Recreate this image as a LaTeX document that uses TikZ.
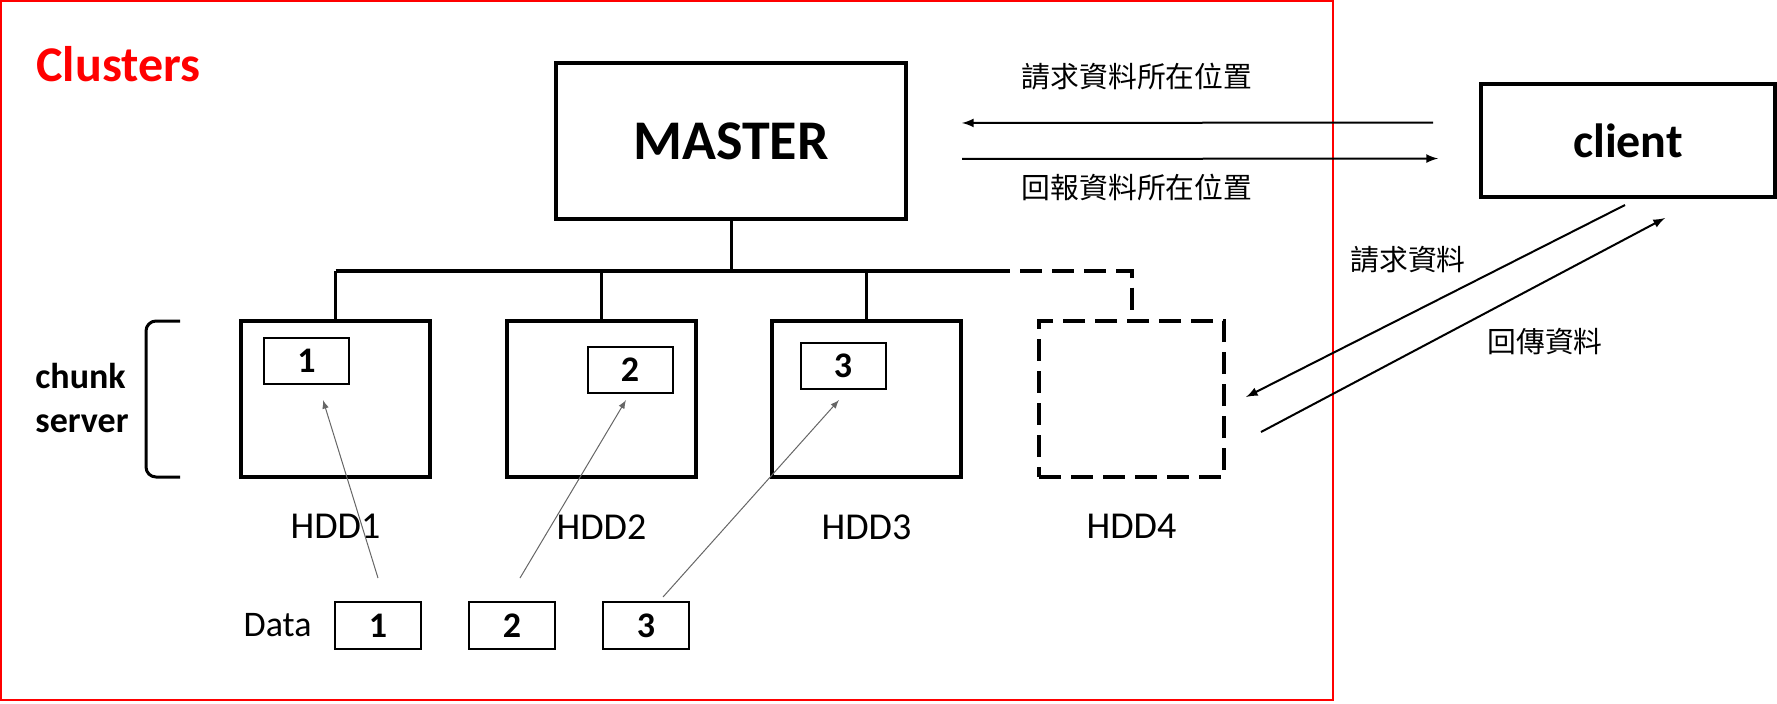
\documentclass[tikz,border=0pt]{standalone}
\usepackage{fontspec}
\setmainfont{Carlito}
\newfontfamily\cjk{Noto Sans CJK TC}
\usetikzlibrary{positioning,arrows}

\begin{document}
\begin{tikzpicture}[x=0.5pt,y=-0.5pt,node distance=0cm,
  box/.style={draw,line width=2pt,inner sep=0pt},
  chunk/.style={draw,line width=1pt,inner sep=0pt,minimum width=42.5pt,minimum height=23pt,font=\fontsize{18pt}{22pt}\selectfont\bfseries},
  label/.style={inner sep=0pt,font=\fontsize{19pt}{22pt}\selectfont},
  cjklabel/.style={inner sep=0pt,font=\fontsize{14.4pt}{17pt}\selectfont\cjk},
  bus/.style={line width=2pt},
  drop/.style={line width=1.5pt},
  dashedline/.style={dash pattern=on 11pt off 5pt},
  feed/.style={->,>=latex,gray!80!black,line width=0.5pt},
  link/.style={->,>=latex,line width=1pt}]

\useasboundingbox (0,0) rectangle (1777,703);
\draw[red,line width=1pt] (1,1) rectangle (1333,700);

\node[inner sep=0pt,anchor=base west,red,font=\fontsize{25pt}{30pt}\selectfont\bfseries](clusters) at (36,81) {Clusters};

\node[box,minimum width=175pt,minimum height=78pt,font=\fontsize{28pt}{32pt}\selectfont\bfseries](master) at (731,141) {MASTER};
\node[box,minimum width=147pt,minimum height=56.5pt,font=\fontsize{24pt}{28pt}\selectfont\bfseries](client) at (1628,140.5) {client};

\node[box,minimum width=94.5pt,minimum height=78pt](hdd1) at (335.5,399) {};
\node[box,minimum width=94.5pt,minimum height=78pt](hdd2) at (601.5,399) {};
\node[box,minimum width=94.5pt,minimum height=78pt](hdd3) at (866.5,399) {};
\node[box,dashedline,minimum width=92.5pt,minimum height=78pt](hdd4) at (1131.5,399) {};

\node[chunk](c1) at (306.5,361) {1};
\node[chunk](c2) at (630,370) {2};
\node[chunk](c3) at (843,365.5) {3};

\foreach \n in {1,2,3,4}{
  \node[label,below=17.5pt of hdd\n](l\n) {HDD\n};
}

\node[inner sep=0pt,align=left,font=\fontsize{18pt}{22pt}\selectfont\bfseries](cs) at (82,398) {chunk\\server};
\draw[line width=1.5pt,rounded corners=5pt] (180,321) -- (146,321) -- (146,477) -- (180,477);

% bus from master to the chunk servers
\coordinate (bl) at (335.5,271);
\coordinate (bm) at (731,271);
\coordinate (br) at (988,271);
\coordinate (bd) at (1131.5,271);
\draw[drop] (master.south) -- (bm);
\foreach \n in {1,2,3}{
  \draw[drop] (hdd\n.north) -- (hdd\n.north |- bl);
}
\draw[bus] (bl) -- (br);
\draw[bus,dashedline] (br) -- (bd) -- (hdd4.north);

% data blocks
\node[chunk,minimum width=43pt,minimum height=23.5pt](d1) at (378,625.5) {1};
\node[chunk,minimum width=43pt,minimum height=23.5pt,right=23pt of d1](d2) {2};
\node[chunk,minimum width=43pt,minimum height=23.5pt,right=23pt of d2](d3) {3};
\node[label,font=\fontsize{18pt}{22pt}\selectfont,left=11pt of d1](data) {Data};

\coordinate (s1) at (378,578);
\coordinate (t1) at (323,400);
\coordinate (s2) at (520,578);
\coordinate (t2) at (626,400);
\coordinate (s3) at (663,597);
\coordinate (t3) at (839,400);
\foreach \n in {1,2,3}{
  \draw[feed] (s\n) -- (t\n);
}

% master <-> client
\draw[link,shorten <=23pt,shorten >=27pt] ([yshift=9pt]client.west) -- ([yshift=9pt]master.east);
\draw[link,shorten <=27pt,shorten >=20.5pt] ([yshift=-9pt]master.east) -- ([yshift=-9pt]client.west);
\node[cjklabel](ask) at (1137,77) {請求資料所在位置};
\node[cjklabel](reply) at (1137,187) {回報資料所在位置};

% client <-> hdd4
\coordinate (q1) at (1625,205);
\coordinate (q2) at (1246,397);
\coordinate (r1) at (1261,432);
\coordinate (r2) at (1665,218);
\draw[link] (q1) -- (q2);
\draw[link] (r1) -- (r2);
\node[cjklabel](req) at (1408,260) {請求資料};
\node[cjklabel](ret) at (1545,342) {回傳資料};
\end{tikzpicture}
\end{document}
